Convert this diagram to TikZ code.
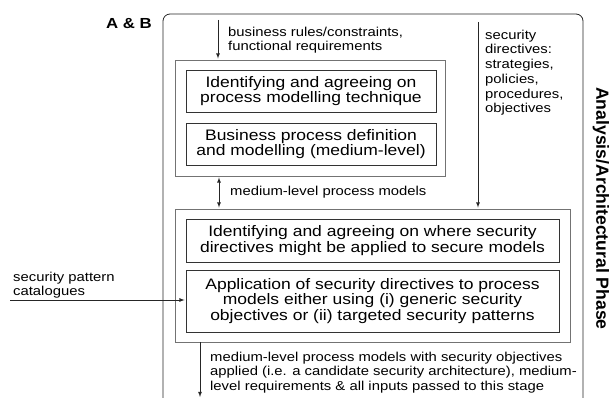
\documentclass[tikz,border=0pt]{standalone}
\usepackage{fontspec}
\setmainfont[FakeStretch=1.15]{Liberation Sans}
\newfontfamily\phasefont{Liberation Sans}
\usepackage{tikz}

\tikzset{
  stagebox/.style={draw=black!55,line width=0.9pt,rectangle},
  taskbox/.style={draw=black!80,line width=0.8pt,rectangle,align=center,inner sep=0pt,
    font=\fontsize{15.2}{15.8}\selectfont},
  lbl/.style={align=left,inner sep=0pt,font=\fontsize{12.9}{14.7}\selectfont},
  flow/.style={color=black!85,line width=0.8pt,shorten >=1pt}
}

\begin{document}
\begin{tikzpicture}[x=1pt,y=-1pt,>=latex]
      \useasboundingbox (0,0) rectangle (613,398);

      % phase frame, open at the bottom
      \draw[black!85,line width=0.8pt,rounded corners=7pt] (163,398) -- (163,14) -- (583,14) -- (583,398);
      \node[font=\bfseries\fontsize{14.6}{17}\selectfont] (ab) at (129,24) {A \& B};
      \node[font=\phasefont\bfseries\fontsize{17.6}{20}\selectfont,rotate=-90] (phase) at (601,208.5) {Analysis/Architectural Phase};

      \node[stagebox,minimum width=270,minimum height=116] (grp1) at (310,118) {};
      \node[taskbox,minimum width=250,minimum height=42] (t1) at (311,91) {Identifying and agreeing on\\process modelling technique};
      \node[taskbox,minimum width=250,minimum height=42] (t2) at (311,144) {Business process definition\\and modelling (medium-level)};

      \node[stagebox,minimum width=395,minimum height=133] (grp2) at (372.5,275.5) {};
      \node[taskbox,minimum width=373,minimum height=43] (t3) at (372.5,240.5) {Identifying and agreeing on where security\\directives might be applied to secure models};
      \node[taskbox,minimum width=373,minimum height=62] (t4) at (372.5,301) {Application of security directives to process\\models either using (i) generic security\\objectives or (ii) targeted security patterns};

      \coordinate (rules) at (218,20);
      \coordinate (mid) at (219,0);
      \coordinate (dirs) at (478,22);
      \coordinate (cat) at (10,300);
      \coordinate (out) at (200,398);

      \path[->,flow] (rules) edge (rules |- grp1.north);
      \path[<->,flow,shorten <=1pt] (mid |- grp1.south) edge (mid |- grp2.north);
      \path[->,flow] (dirs) edge (dirs |- grp2.north);
      \path[->,flow] (cat) edge (cat -| t4.west);
      \path[->,flow] (grp2.south -| out) edge (out);

      \node[lbl,anchor=north west] (rulestxt) at (228,26.5) {business rules/constraints,\\functional requirements};
      \node[lbl,anchor=base west] (midtxt) at (230,196) {medium-level process models};
      \node[lbl,anchor=north west] (dirstxt) at (485,29.7) {security\\directives:\\strategies,\\policies,\\procedures,\\objectives};
      \node[lbl,anchor=north west] (cattxt) at (13,271.7) {security pattern\\catalogues};
      \node[lbl,anchor=north west] (outtxt) at (210,351.6) {medium-level process models with security objectives\\applied (i.e. a candidate security architecture), medium-\\level requirements \& all inputs passed to this stage};
    \end{tikzpicture}
\end{document}
